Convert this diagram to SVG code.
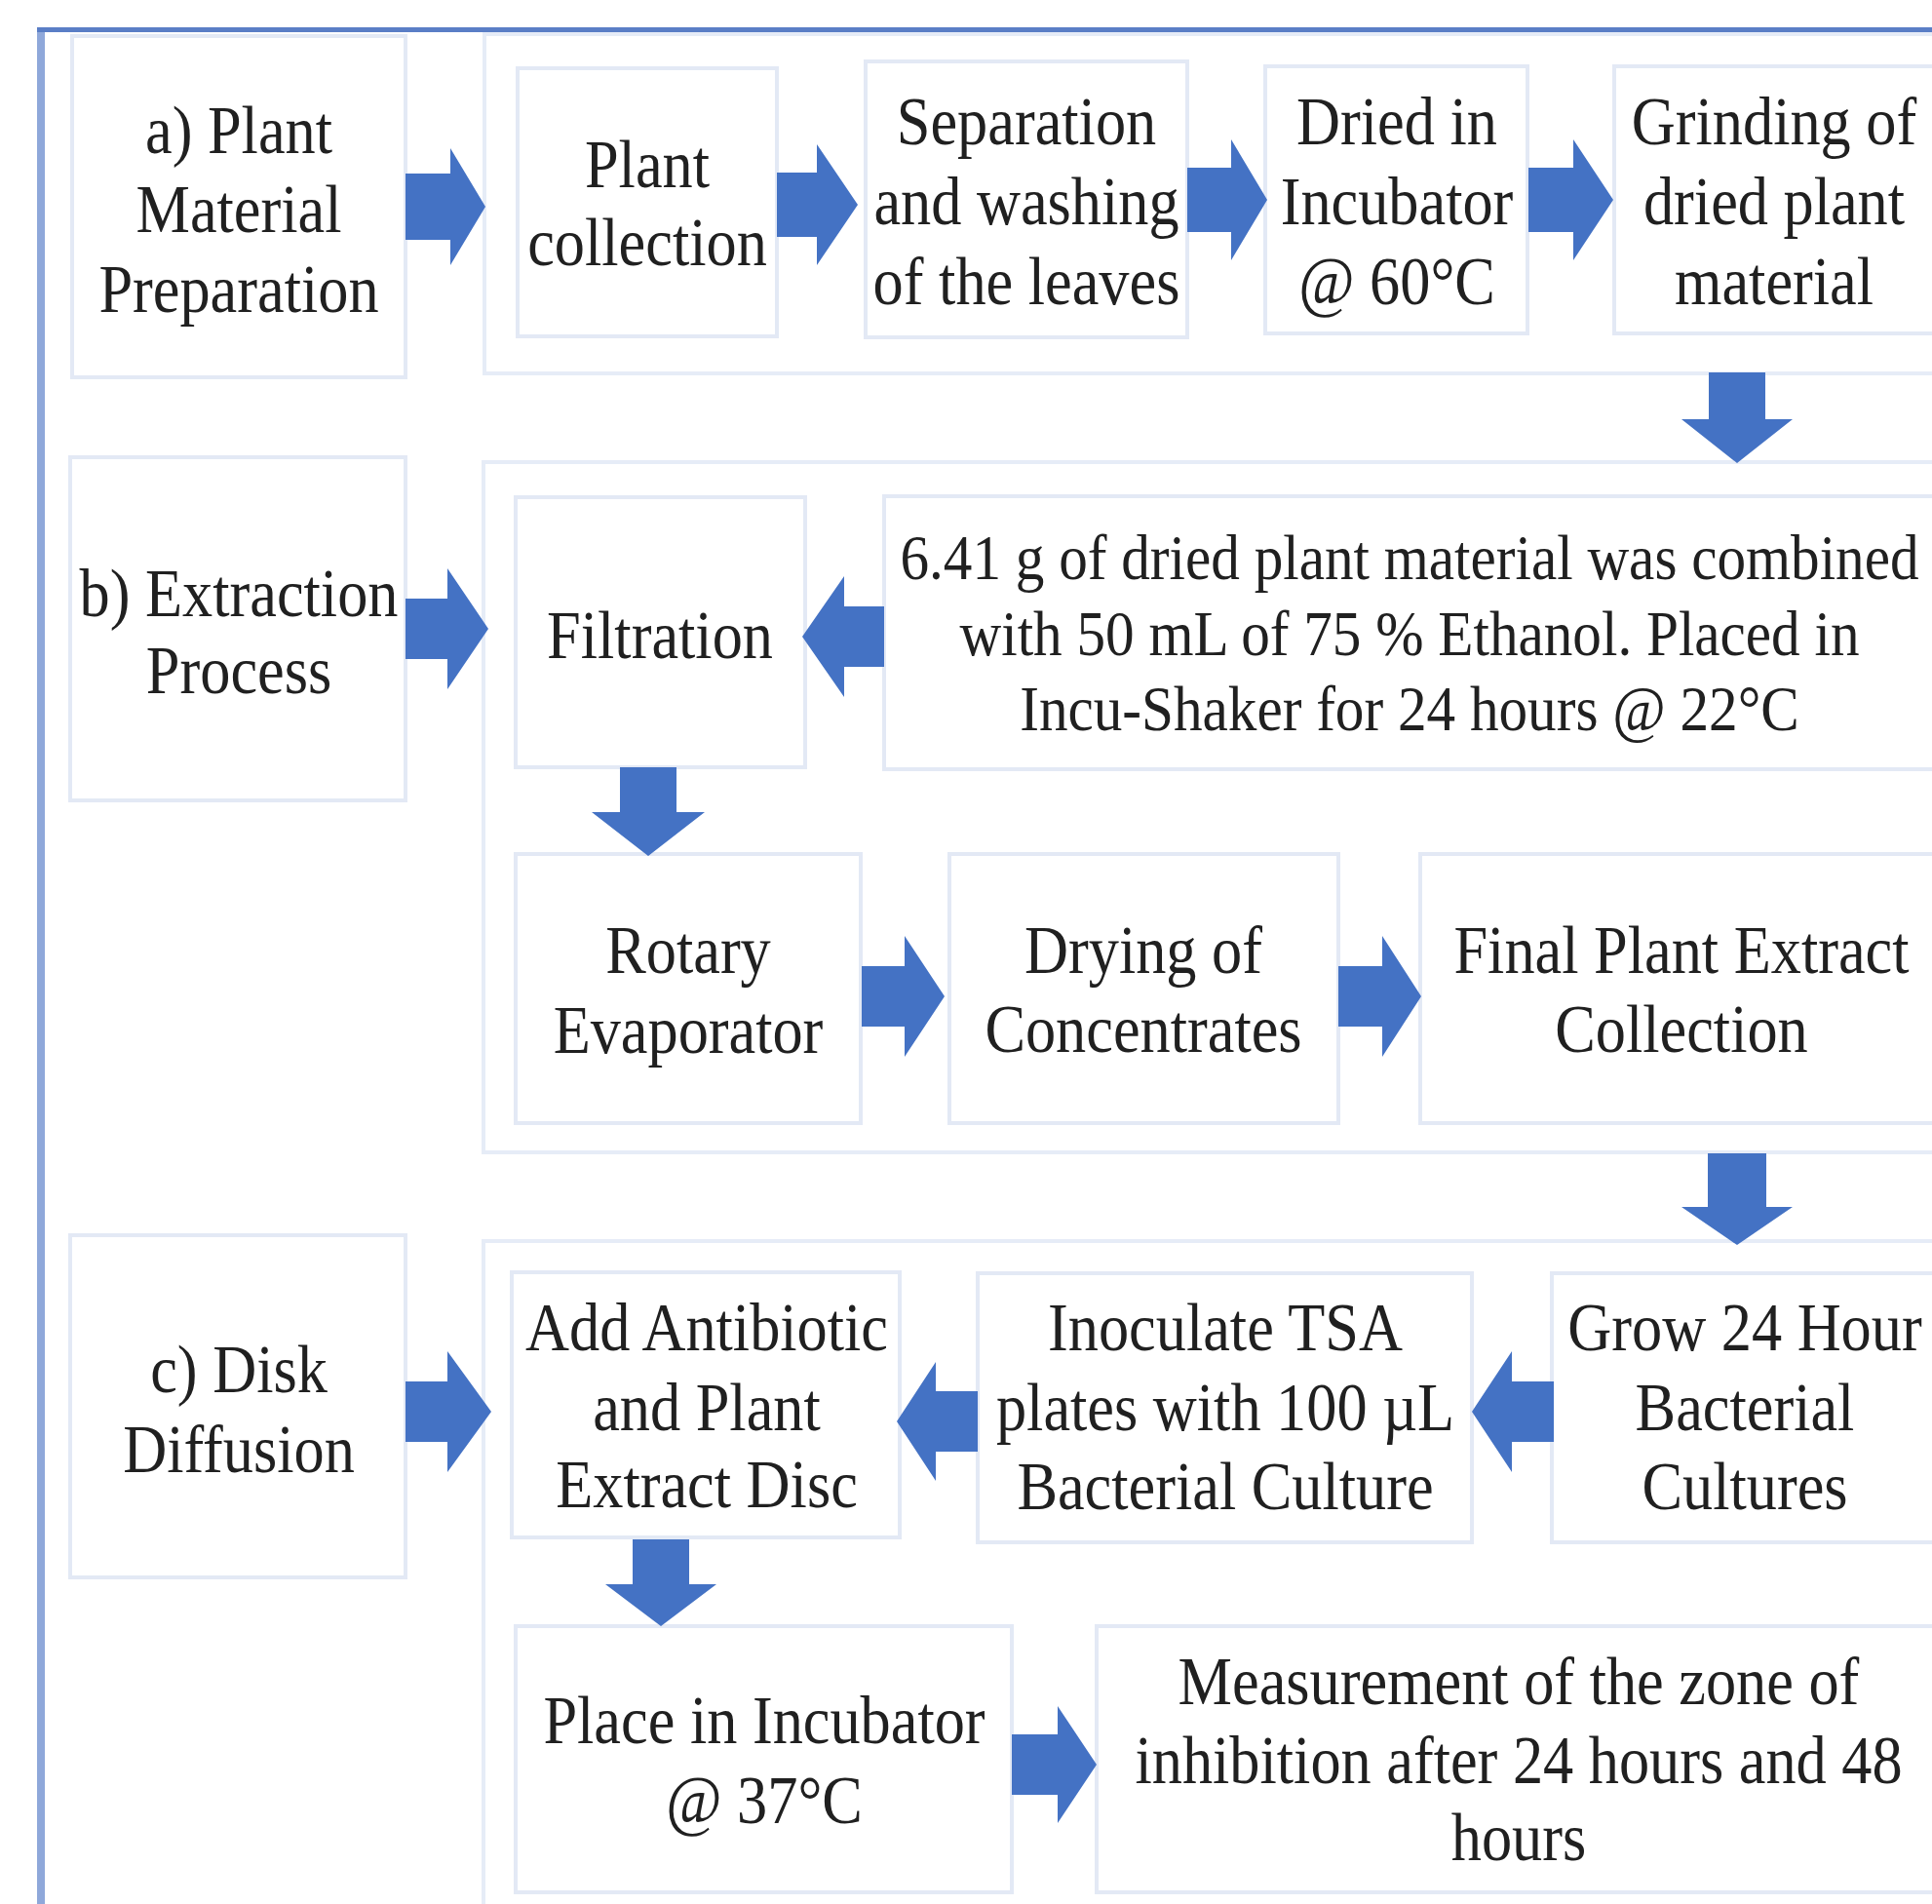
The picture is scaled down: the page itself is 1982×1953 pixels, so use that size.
<svg xmlns="http://www.w3.org/2000/svg" width="1982" height="1953" viewBox="0 0 1982 1953">
<style>
.bx{fill:#ffffff;stroke:#e3e9f5;stroke-width:4}
.ct{fill:none;stroke:#e6ecf7;stroke-width:4}
.ar{fill:#4472c4}
.t{font-family:"Liberation Serif","Times New Roman",serif;font-size:70px;fill:#202020;text-anchor:middle}
.ts{font-size:66.5px}
</style>
<rect width="1982" height="1953" fill="#ffffff"/>
<g id="frame">
<rect x="38" y="28" width="8" height="1925" fill="#8fa8da"/>
<rect x="38" y="28" width="1944" height="5" fill="#5a7ec6"/>
</g>
<g id="containers">
<rect class="ct" x="497" y="35" width="1500" height="348"/>
<rect class="ct" x="496" y="474" width="1500" height="708"/>
<rect class="ct" x="496" y="1273" width="1500" height="720"/>
</g>
<g id="label-a"><rect class="bx" x="74" y="37" width="342" height="350"/>
<text class="t" transform="translate(245,0) scale(0.89,1)"><tspan x="0" y="157">a) Plant</tspan><tspan x="0" y="238">Material</tspan><tspan x="0" y="320">Preparation</tspan></text></g>
<g id="plant-collection"><rect class="bx" x="531" y="70" width="266" height="275"/>
<text class="t" transform="translate(664,0) scale(0.89,1)"><tspan x="0" y="192">Plant</tspan><tspan x="0" y="272">collection</tspan></text></g>
<g id="separation"><rect class="bx" x="888" y="63" width="330" height="283"/>
<text class="t" transform="translate(1053,0) scale(0.89,1)"><tspan x="0" y="148">Separation</tspan><tspan x="0" y="230">and washing</tspan><tspan x="0" y="312">of the leaves</tspan></text></g>
<g id="dried"><rect class="bx" x="1298" y="68" width="269" height="274"/>
<text class="t" transform="translate(1433,0) scale(0.89,1)"><tspan x="0" y="148">Dried in</tspan><tspan x="0" y="230">Incubator</tspan><tspan x="0" y="312">@ 60°C</tspan></text></g>
<g id="grinding"><rect class="bx" x="1656" y="68" width="350" height="274"/>
<text class="t" transform="translate(1820,0) scale(0.89,1)"><tspan x="0" y="148">Grinding of</tspan><tspan x="0" y="230">dried plant</tspan><tspan x="0" y="312">material</tspan></text></g>
<g id="label-b"><rect class="bx" x="72" y="469" width="344" height="352"/>
<text class="t" transform="translate(245,0) scale(0.89,1)"><tspan x="0" y="632">b) Extraction</tspan><tspan x="0" y="711">Process</tspan></text></g>
<g id="filtration"><rect class="bx" x="529" y="510" width="297" height="277"/>
<text class="t" transform="translate(677,0) scale(0.89,1)"><tspan x="0" y="675">Filtration</tspan></text></g>
<g id="combine"><rect class="bx" x="907" y="509" width="1090" height="280"/>
<text class="t ts" transform="translate(1446,0) scale(0.89,1)"><tspan x="0" y="594">6.41 g of dried plant material was combined</tspan><tspan x="0" y="672">with 50 mL of 75 % Ethanol. Placed in</tspan><tspan x="0" y="749">Incu-Shaker for 24 hours @ 22°C</tspan></text></g>
<g id="rotary"><rect class="bx" x="529" y="876" width="354" height="276"/>
<text class="t" transform="translate(706,0) scale(0.89,1)"><tspan x="0" y="998">Rotary</tspan><tspan x="0" y="1080">Evaporator</tspan></text></g>
<g id="drying"><rect class="bx" x="974" y="876" width="399" height="276"/>
<text class="t" transform="translate(1173,0) scale(0.89,1)"><tspan x="0" y="998">Drying of</tspan><tspan x="0" y="1079">Concentrates</tspan></text></g>
<g id="final"><rect class="bx" x="1457" y="876" width="540" height="276"/>
<text class="t" transform="translate(1725,0) scale(0.89,1)"><tspan x="0" y="998">Final Plant Extract</tspan><tspan x="0" y="1079">Collection</tspan></text></g>
<g id="label-c"><rect class="bx" x="72" y="1267" width="344" height="351"/>
<text class="t" transform="translate(245,0) scale(0.89,1)"><tspan x="0" y="1428">c) Disk</tspan><tspan x="0" y="1510">Diffusion</tspan></text></g>
<g id="add-disc"><rect class="bx" x="525" y="1305" width="398" height="272"/>
<text class="t" transform="translate(725,0) scale(0.89,1)"><tspan x="0" y="1385">Add Antibiotic</tspan><tspan x="0" y="1467">and Plant</tspan><tspan x="0" y="1546">Extract Disc</tspan></text></g>
<g id="inoculate"><rect class="bx" x="1003" y="1306" width="507" height="276"/>
<text class="t" transform="translate(1257,0) scale(0.89,1)"><tspan x="0" y="1385">Inoculate TSA</tspan><tspan x="0" y="1467">plates with 100 µL</tspan><tspan x="0" y="1548">Bacterial Culture</tspan></text></g>
<g id="grow"><rect class="bx" x="1592" y="1306" width="400" height="276"/>
<text class="t" transform="translate(1790,0) scale(0.89,1)"><tspan x="0" y="1385">Grow 24 Hour</tspan><tspan x="0" y="1467">Bacterial</tspan><tspan x="0" y="1548">Cultures</tspan></text></g>
<g id="place"><rect class="bx" x="529" y="1668" width="509" height="273"/>
<text class="t" transform="translate(784,0) scale(0.89,1)"><tspan x="0" y="1788">Place in Incubator</tspan><tspan x="0" y="1870">@ 37°C</tspan></text></g>
<g id="measurement"><rect class="bx" x="1125" y="1668" width="870" height="273"/>
<text class="t" transform="translate(1558,0) scale(0.89,1)"><tspan x="0" y="1748">Measurement of the zone of</tspan><tspan x="0" y="1829">inhibition after 24 hours and 48</tspan><tspan x="0" y="1908">hours</tspan></text></g>
<g id="connectors">
<polygon class="ar" points="416,178 462,178 462,152 498,212 462,272 462,246 416,246"/>
<polygon class="ar" points="797,177 838,177 838,148 880,210 838,272 838,243 797,243"/>
<polygon class="ar" points="1218,172 1263,172 1263,143 1300,205 1263,267 1263,238 1218,238"/>
<polygon class="ar" points="1568,172 1614,172 1614,143 1655,205 1614,267 1614,238 1568,238"/>
<polygon class="ar" points="1753,382 1811,382 1811,430 1839,430 1782,475 1725,430 1753,430"/>
<polygon class="ar" points="416,614 459,614 459,583 501,645 459,707 459,676 416,676"/>
<polygon class="ar" points="823,653 866,591 866,622 907,622 907,684 866,684 866,715"/>
<polygon class="ar" points="636,787 694,787 694,833 723,833 665,878 607,833 636,833"/>
<polygon class="ar" points="884,991 928,991 928,960 969,1022 928,1084 928,1053 884,1053"/>
<polygon class="ar" points="1373,991 1418,991 1418,960 1458,1022 1418,1084 1418,1053 1373,1053"/>
<polygon class="ar" points="1752,1183 1812,1183 1812,1238 1839,1238 1782,1277 1725,1238 1752,1238"/>
<polygon class="ar" points="416,1417 459,1417 459,1386 504,1448 459,1510 459,1479 416,1479"/>
<polygon class="ar" points="920,1458 960,1397 960,1427 1003,1427 1003,1489 960,1489 960,1519"/>
<polygon class="ar" points="1510,1448 1551,1386 1551,1417 1594,1417 1594,1479 1551,1479 1551,1510"/>
<polygon class="ar" points="649,1579 707,1579 707,1625 735,1625 678,1668 621,1625 649,1625"/>
<polygon class="ar" points="1038,1779 1085,1779 1085,1750 1125,1810 1085,1870 1085,1841 1038,1841"/>
</g>
</svg>
